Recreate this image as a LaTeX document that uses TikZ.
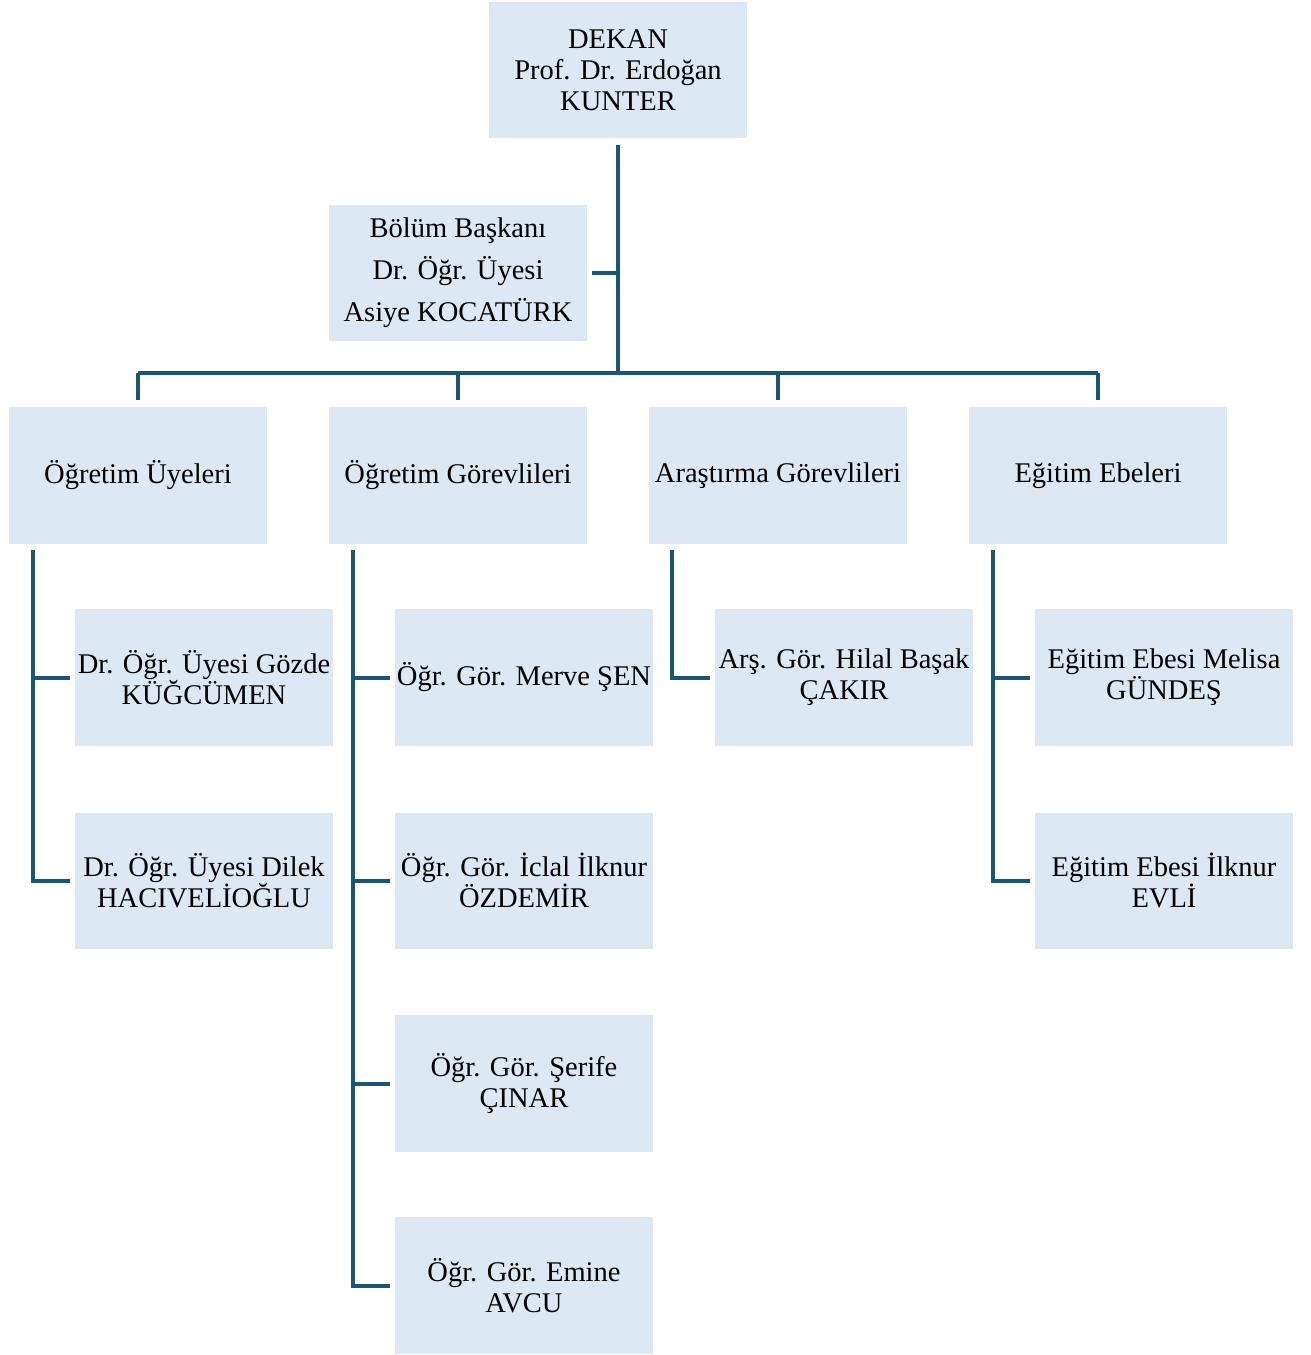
\documentclass[tikz,border=0pt]{standalone}
\usepackage{fontspec}
\setmainfont{Liberation Serif}
\definecolor{boxfill}{RGB}{221,232,245}
\definecolor{linecol}{RGB}{24,86,116}
\begin{document}
\begin{tikzpicture}[x=1pt,y=1pt,
  box/.style={fill=boxfill, draw=none, minimum width=258pt, minimum height=136pt, inner sep=0pt, align=center, font=\fontsize{28.5}{31}\selectfont},
  conn/.style={draw=linecol, line width=4pt}]
\useasboundingbox (0,0) rectangle (1311,-1355);
% top
\node[box] (dekan) at (618,-70) {DEKAN\\Prof. Dr. Erdoğan\\KUNTER};
\node[box, font=\fontsize{28.5}{42}\selectfont] (bb) at (458,-273) {Bölüm Başkanı\\Dr. Öğr. Üyesi\\Asiye KOCATÜRK};
% level 2
\node[box, minimum height=137pt] (l1) at (138,-475.5) {Öğretim Üyeleri};
\node[box, minimum height=137pt] (l2) at (458,-475.5) {Öğretim Görevlileri};
\node[box, minimum height=137pt] (l3) at (778,-475.5) {Araştırma Görevlileri};
\node[box, minimum height=137pt] (l4) at (1098,-475.5) {Eğitim Ebeleri};
% children
\node[box, minimum height=137pt] (c11) at (204,-677.5) {Dr. Öğr. Üyesi Gözde\\KÜĞCÜMEN};
\node[box, minimum height=136pt] (c12) at (204,-880.5) {Dr. Öğr. Üyesi Dilek\\HACIVELİOĞLU};
\node[box, minimum height=137pt] (c21) at (524,-677.5) {Öğr. Gör. Merve ŞEN};
\node[box, minimum height=136pt] (c22) at (524,-880.5) {Öğr. Gör. İclal İlknur\\ÖZDEMİR};
\node[box, minimum height=137pt] (c23) at (524,-1083.5) {Öğr. Gör. Şerife\\ÇINAR};
\node[box, minimum height=137pt] (c24) at (524,-1285.5) {Öğr. Gör. Emine\\AVCU};
\node[box, minimum height=137pt] (c31) at (844,-677.5) {Arş. Gör. Hilal Başak\\ÇAKIR};
\node[box, minimum height=137pt] (c41) at (1164,-677.5) {Eğitim Ebesi Melisa\\GÜNDEŞ};
\node[box, minimum height=136pt] (c42) at (1164,-880.5) {Eğitim Ebesi İlknur\\EVLİ};
% bar coordinates
\coordinate (barL) at (138,-373);
\coordinate (barR) at (1098,-373);
% trunk
\draw[conn, shorten <=7pt] (dekan.south) -- (dekan.south |- barL);
\draw[conn, shorten <=5pt] (bb.east) -- (bb.east -| dekan.south);
\draw[conn] (barL) -- (barR);
% drops
\foreach \n in {l1,l2,l3,l4} {
  \draw[conn, shorten >=7pt] (\n.north |- barL) -- (\n.north);
}
% column connectors
\foreach \p/\c/\o in {l1/c12/24, l1/c11/24, l2/c24/24, l2/c23/24, l2/c22/24, l2/c21/24, l3/c31/23, l4/c42/24, l4/c41/24} {
  \draw[conn, shorten <=6pt, shorten >=5pt] ([xshift=\o pt]\p.south west) |- (\c.west);
}
\end{tikzpicture}
\end{document}
